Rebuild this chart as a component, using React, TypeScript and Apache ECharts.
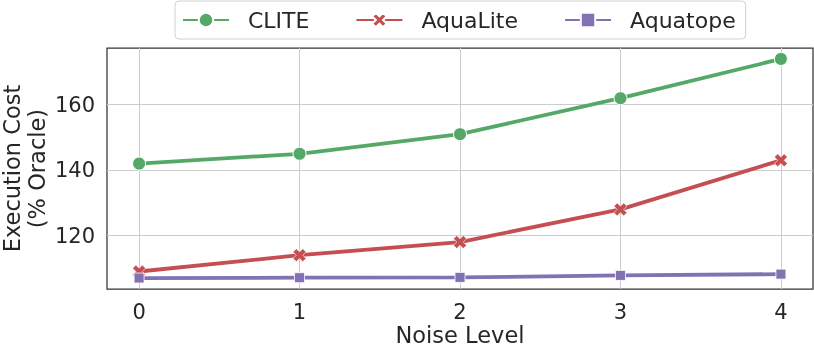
import React, { useEffect, useRef } from "react";
import * as echarts from "echarts";

const noiseLevels = [0, 1, 2, 3, 4];
const cliteCost = [142, 145, 151, 162, 174];
const aquaLiteCost = [109, 114, 118, 128, 143];
const aquatopeCost = [107, 107.1, 107.2, 107.8, 108.2];
const yTicks = [120, 140, 160];
const xTicks = [0, 1, 2, 3, 4];

const FONT = "DejaVu Sans";
const TEXT = "#262626";
const X_PATH =
  "path://M0,0.25 L0.25,0 L0.5,0.25 L0.75,0 L1,0.25 L0.75,0.5 L1,0.75 L0.75,1 L0.5,0.75 L0.25,1 L0,0.75 L0.25,0.5 Z";

export default function App() {
  const ref = useRef<HTMLDivElement>(null);
  useEffect(() => {
    if (!ref.current) return;
    const chart = echarts.init(ref.current, null, { renderer: "svg" });
    const pairs = (ys: number[]) => noiseLevels.map((x, i) => [x, ys[i]]);
    chart.setOption({
      animation: false,
      textStyle: { fontFamily: FONT, color: TEXT },
      legend: {
        left: 175,
        top: 1,
        orient: "horizontal",
        padding: [8, 10, 8, 7],
        backgroundColor: "#fff",
        borderColor: "#d0d0d0",
        borderWidth: 1,
        borderRadius: 4,
        itemWidth: 46,
        itemHeight: 18,
        itemGap: 46,
        textStyle: { fontFamily: FONT, fontSize: 22, color: TEXT, padding: [0, 0, 0, 14] },
        data: ["CLITE", "AquaLite", "Aquatope"],
      },
      grid: {
        left: 107,
        top: 48,
        right: 1,
        bottom: 62,
        outerBoundsMode: "none",
        containLabel: false,
        show: true,
        borderColor: "#333",
        borderWidth: 1.25,
        backgroundColor: "transparent",
      },
      xAxis: {
        type: "value",
        min: -0.2,
        max: 4.2,
        name: "Noise Level",
        nameLocation: "middle",
        nameGap: 34,
        nameMoveOverlap: false,
        nameTextStyle: { fontFamily: FONT, fontSize: 22.5, color: TEXT },
        axisLine: { show: false },
        axisTick: { show: false, customValues: xTicks },
        axisLabel: {
          customValues: xTicks,
          fontFamily: FONT,
          fontSize: 21,
          color: TEXT,
          margin: 12,
        },
        splitLine: { show: true, lineStyle: { color: "#cccccc", width: 1 } },
      },
      yAxis: {
        type: "value",
        min: 103.65,
        max: 177.35,
        name: "Execution Cost\n(% Oracle)",
        nameLocation: "middle",
        nameGap: 58,
        nameMoveOverlap: false,
        nameTextStyle: { fontFamily: FONT, fontSize: 22.5, color: TEXT, lineHeight: 25 },
        axisLine: { show: false },
        axisTick: { show: false, customValues: yTicks },
        axisLabel: {
          customValues: yTicks,
          fontFamily: FONT,
          fontSize: 21,
          color: TEXT,
          margin: 12,
        },
        splitLine: { show: true, lineStyle: { color: "#cccccc", width: 1 } },
      },
      series: [
        {
          name: "CLITE",
          type: "line",
          data: pairs(cliteCost),
          symbol: "circle",
          symbolSize: 13,
          lineStyle: { color: "#55a868", width: 3.8 },
          itemStyle: { color: "#55a868", borderColor: "#fff", borderWidth: 1 },
        },
        {
          name: "AquaLite",
          type: "line",
          data: pairs(aquaLiteCost),
          symbol: X_PATH,
          symbolSize: 13,
          lineStyle: { color: "#c44e52", width: 3.8 },
          itemStyle: { color: "#c44e52", borderColor: "#fff", borderWidth: 0.6 },
        },
        {
          name: "Aquatope",
          type: "line",
          data: pairs(aquatopeCost),
          symbol: "rect",
          symbolSize: 10,
          lineStyle: { color: "#8172b3", width: 3.8 },
          itemStyle: { color: "#8172b3", borderColor: "#fff", borderWidth: 0.8 },
        },
      ],
    });
    return () => chart.dispose();
  }, []);
  return (
    <div
      ref={ref}
      style={{ position: "fixed", left: 0, top: 0, width: 814, height: 351 }}
    />
  );
}
